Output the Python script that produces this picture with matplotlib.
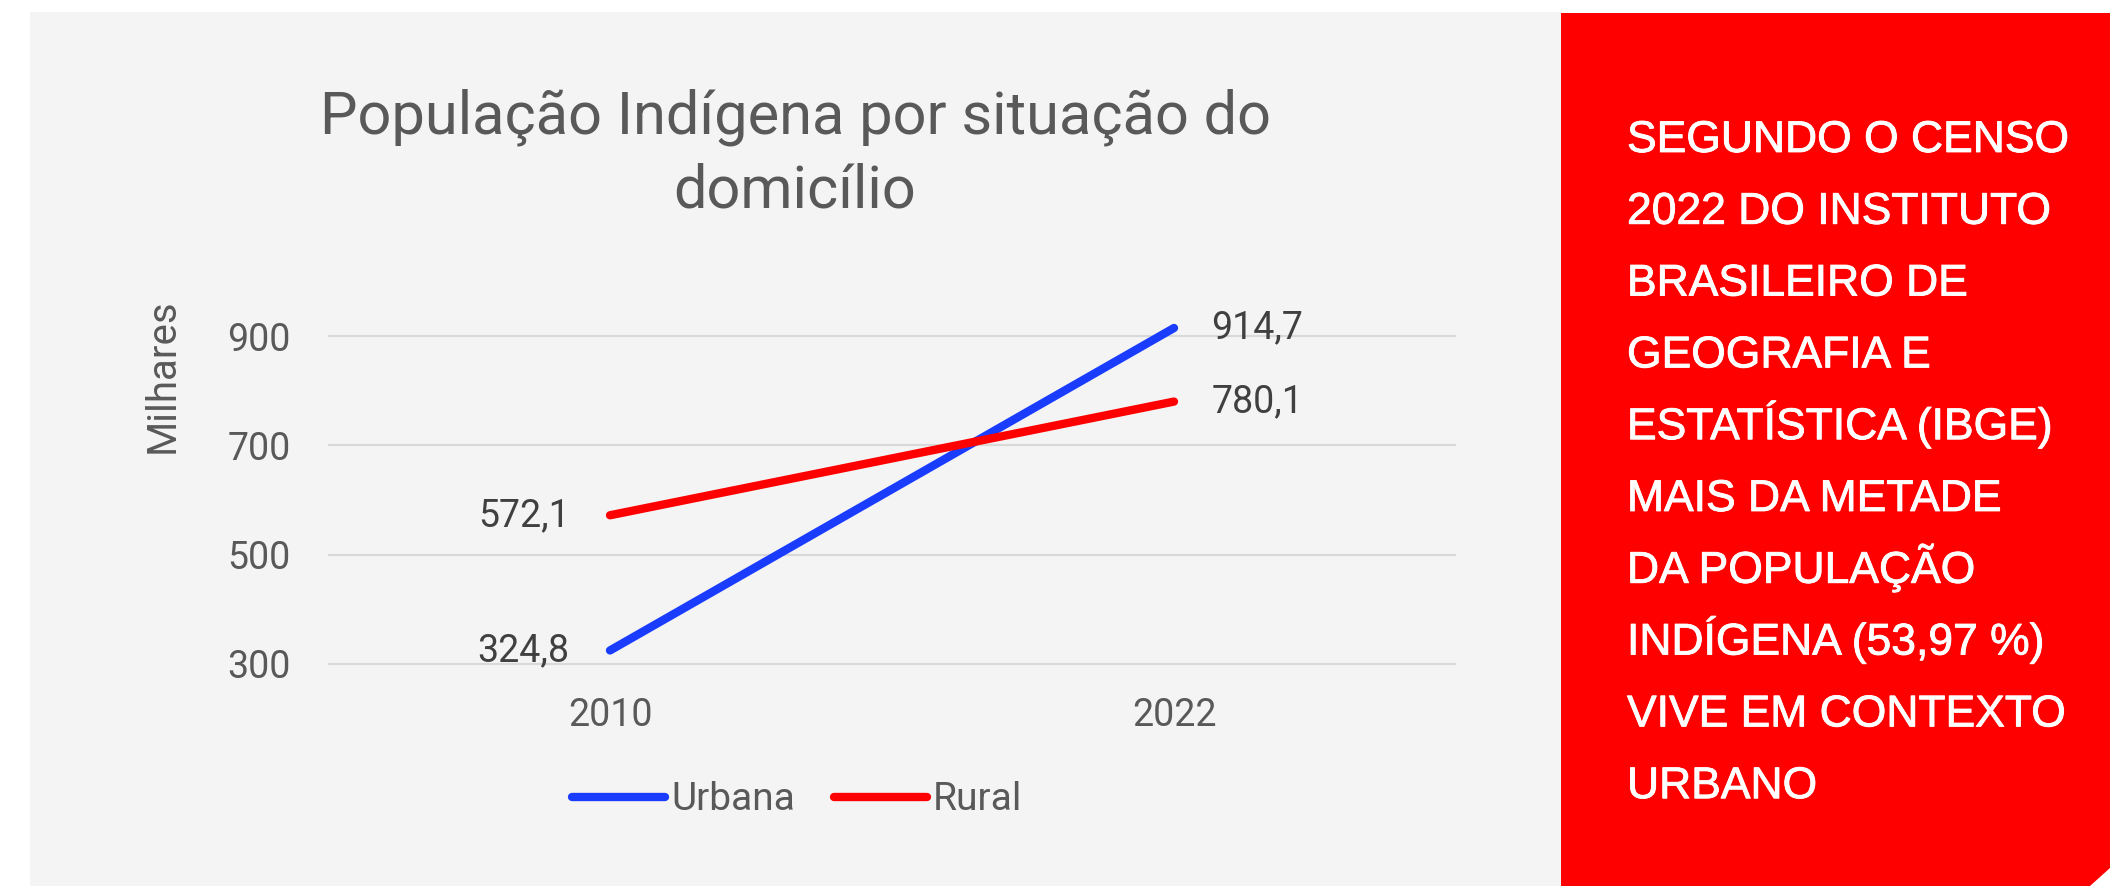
import matplotlib.pyplot as plt
import matplotlib.patheffects as pe
from matplotlib.patches import Rectangle, Polygon
from matplotlib.lines import Line2D

years = ['2010', '2022']
urbana = [324.8, 914.7]
rural = [572.1, 780.1]
urbana_labels = ['324,8', '914,7']
rural_labels = ['572,1', '780,1']
yticks = [300, 500, 700, 900]
title = 'População Indígena por situação do\ndomicílio'
ylabel = 'Milhares'
series_names = ['Urbana', 'Rural']
box_lines = ['SEGUNDO O CENSO', '2022 DO INSTITUTO', 'BRASILEIRO DE', 'GEOGRAFIA E',
             'ESTATÍSTICA (IBGE)', 'MAIS DA METADE', 'DA POPULAÇÃO', 'INDÍGENA (53,97 %)',
             'VIVE EM CONTEXTO', 'URBANO']

BLUE = '#1a3cff'; RED = '#ff0000'; GREY = '#595959'; DARK = '#404040'
W, H = 2110, 886
fx = lambda px: px / W
fy = lambda py: 1 - py / H

plt.rcParams['font.family'] = ['Roboto', 'DejaVu Sans']
fig = plt.figure(figsize=(W / 100, H / 100), dpi=100)
fig.patch.set_facecolor('white')

# background panels
fig.add_artist(Rectangle((fx(30), 0), fx(1561) - fx(30), fy(12), transform=fig.transFigure,
                         facecolor='#f4f4f4', edgecolor='none', zorder=0))
fig.add_artist(Rectangle((fx(1561), 0), 1 - fx(1561), fy(13), transform=fig.transFigure,
                         facecolor=RED, edgecolor='none', zorder=0))
fig.add_artist(Polygon([(fx(2090), 0), (1, fy(868)), (1, 0)], closed=True, transform=fig.transFigure,
                       facecolor='white', edgecolor='none', zorder=0.5))

ax = fig.add_axes([fx(328), fy(664), (1456 - 328) / W, (664 - 308.7) / H])
ax.set_facecolor('none')
x = list(range(len(years)))
ax.set_xlim(-0.5, 1.5); ax.set_ylim(300, 950)
ax.hlines(yticks, -0.5, 1.5, color='#d9d9d9', lw=1.6, clip_on=False, zorder=1)
ax.plot(x, urbana, color=BLUE, lw=6, solid_capstyle='round', zorder=3, clip_on=False)
ax.plot(x, rural, color=RED, lw=6, solid_capstyle='round', zorder=3, clip_on=False)
for i in x:
    dx = -29 if i == 0 else 27
    ha = 'right' if i == 0 else 'left'
    ax.annotate(urbana_labels[i], (i, urbana[i]), xytext=(dx, 0), textcoords='offset points',
                ha=ha, va='center', fontsize=27, color=DARK)
    ax.annotate(rural_labels[i], (i, rural[i]), xytext=(dx, 0), textcoords='offset points',
                ha=ha, va='center', fontsize=27, color=DARK)
ax.set_xticks(x, years); ax.set_yticks(yticks)
ax.tick_params(length=0, labelsize=27, colors=GREY)
ax.tick_params(axis='y', pad=27); ax.tick_params(axis='x', pad=24)
for s in ax.spines.values(): s.set_visible(False)

fig.text(fx(162), fy(376), ylabel, rotation=90, ha='center', va='center', fontsize=29, color=GREY)
for i, line in enumerate(title.split('\n')):
    fig.text(fx(795), fy(133 + 75 * i), line, ha='center', va='baseline', fontsize=42.8, color=GREY)

handles = [Line2D([], [], color=BLUE, lw=6, solid_capstyle='round'),
           Line2D([], [], color=RED, lw=6, solid_capstyle='round')]
fig.legend(handles, series_names, loc='center', bbox_to_anchor=(fx(797), fy(800)), ncol=2,
           frameon=False, fontsize=28, labelcolor=GREY, handlelength=2.4, handletextpad=0.15,
           columnspacing=1.0)

for i, line in enumerate(box_lines):
    fig.text(fx(1627), fy(152 + 71.8 * i), line, color='white', fontsize=32,
             family='Liberation Sans', va='baseline', ha='left',
             path_effects=[pe.withStroke(linewidth=0.6, foreground='white')])

fig.savefig('out.png', dpi=100)
